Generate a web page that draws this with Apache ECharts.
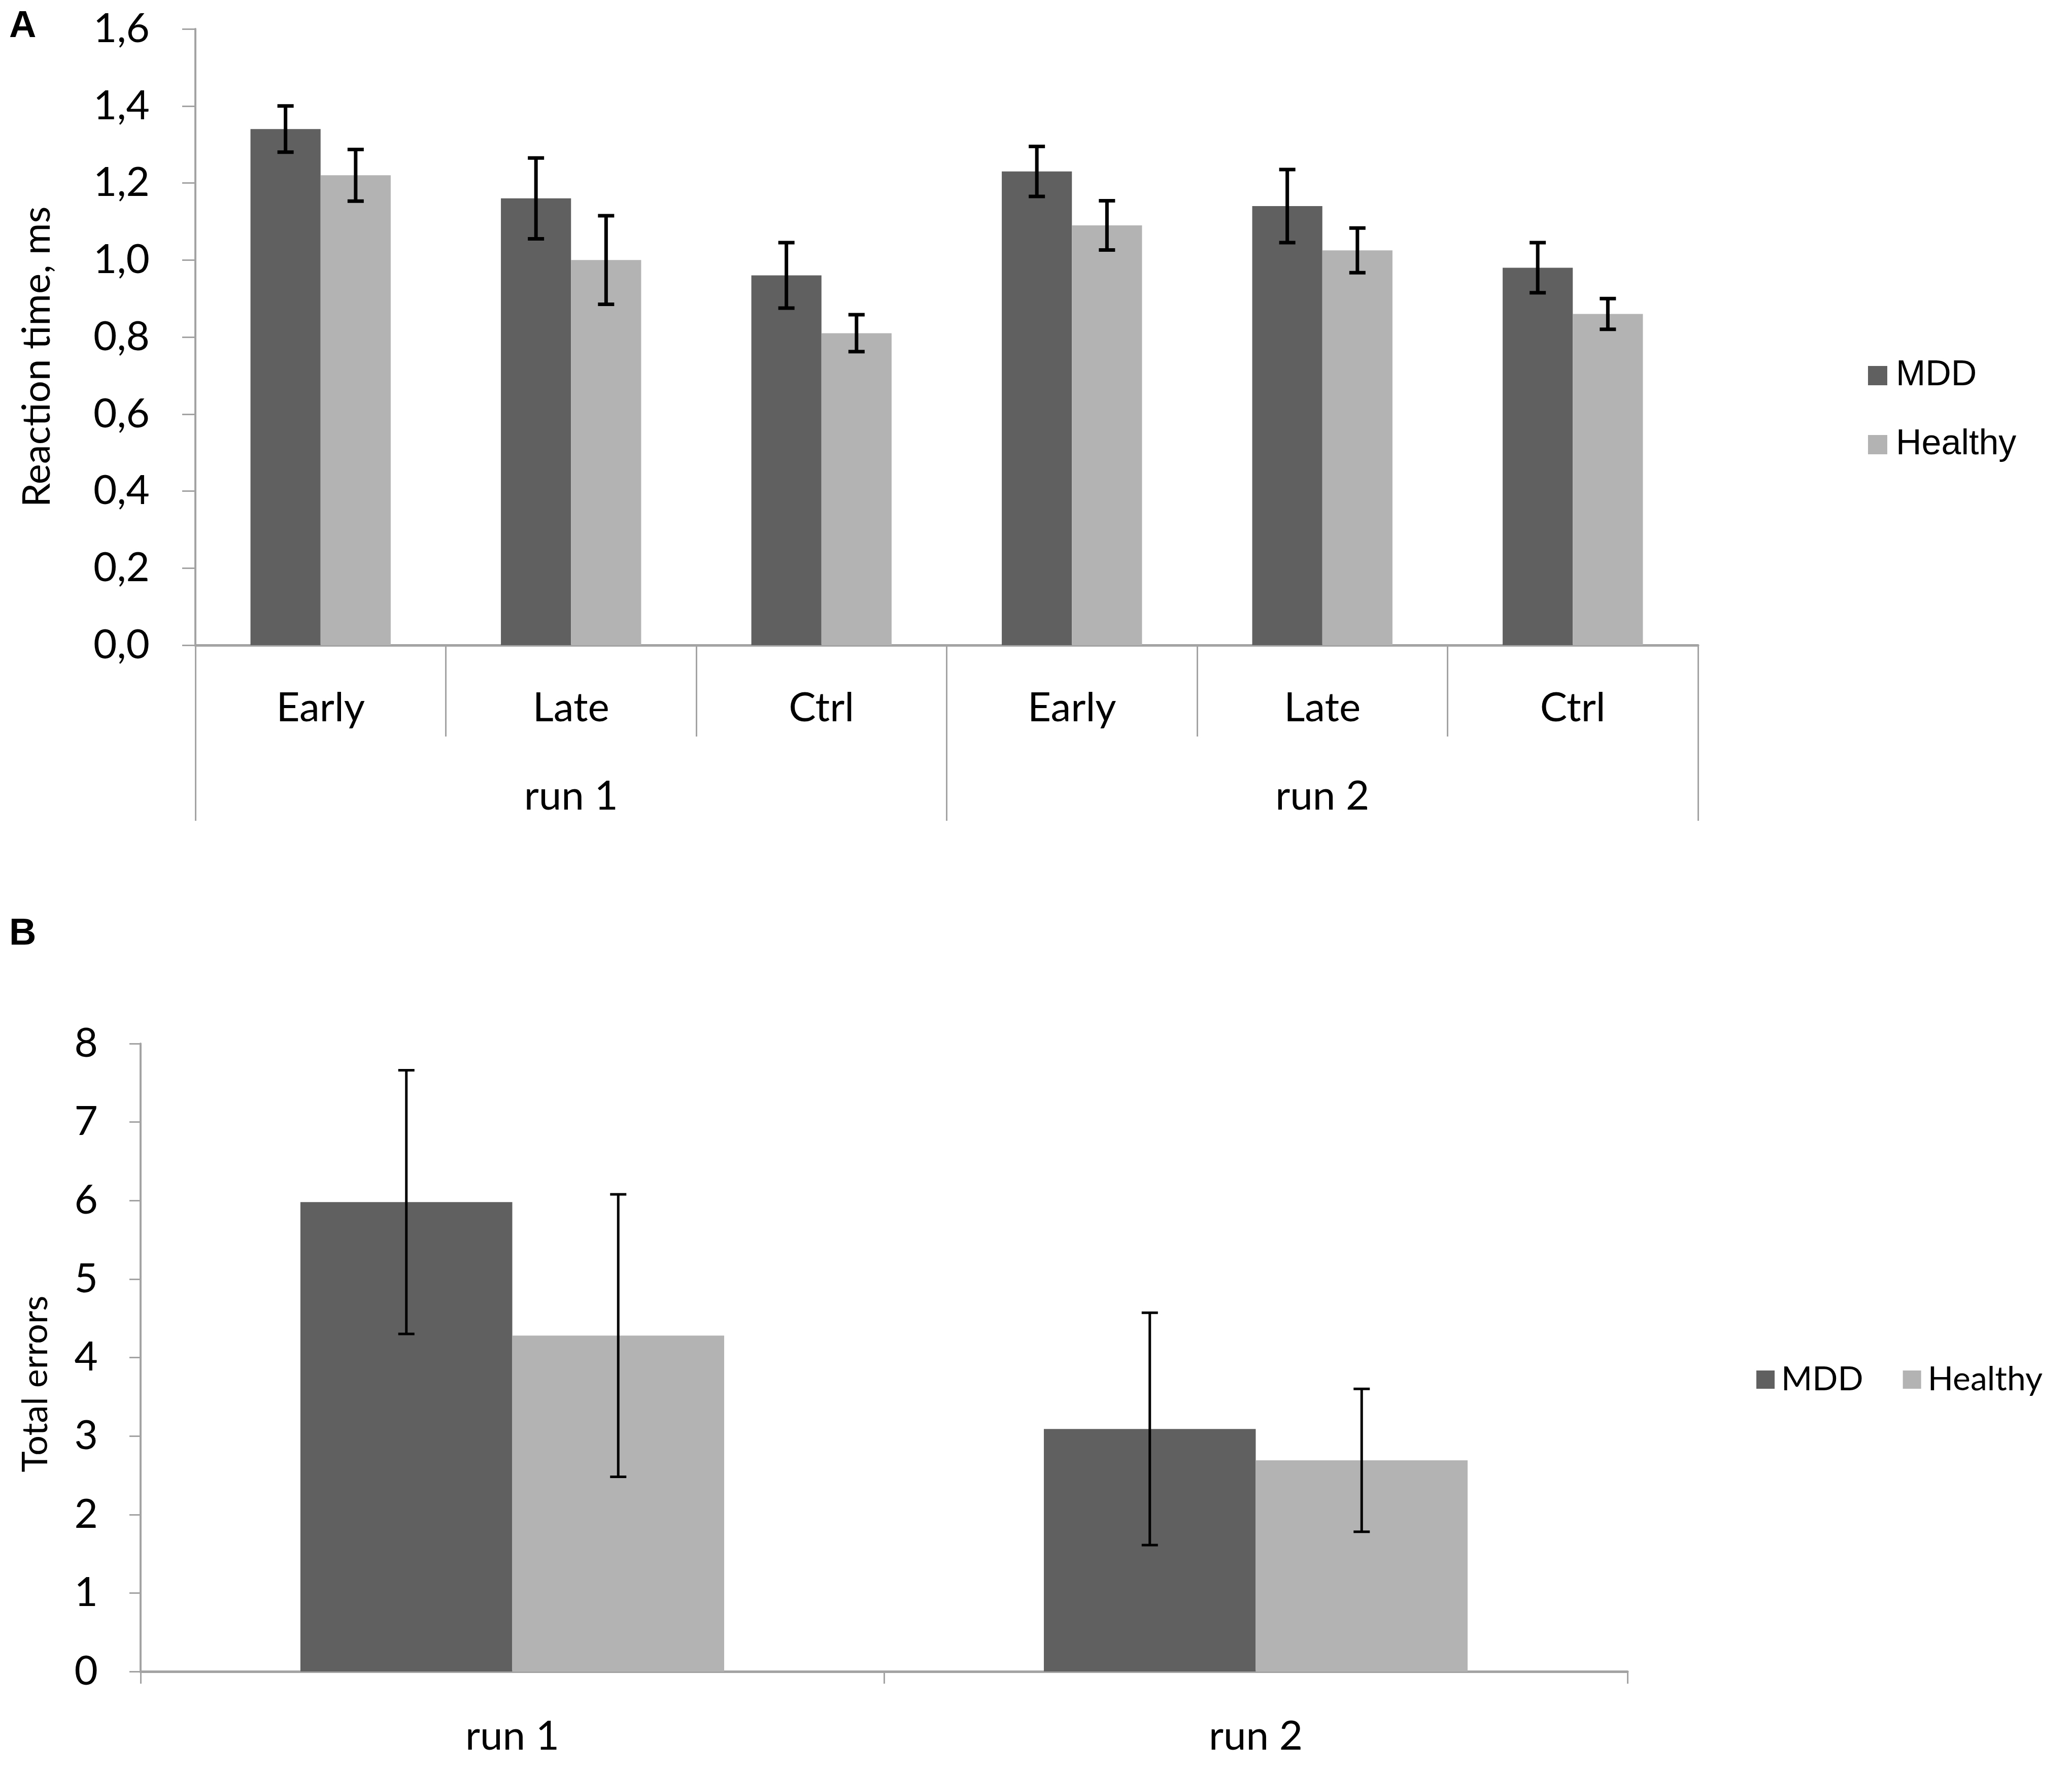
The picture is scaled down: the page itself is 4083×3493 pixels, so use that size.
<!DOCTYPE html>
<html>
<head>
<meta charset="utf-8">
<script src="https://cdn.jsdelivr.net/npm/echarts@6/dist/echarts.min.js"></script>
<style>
html, body { margin: 0; padding: 0; background: #fff; }
#main { width: 4083px; height: 3493px; }
</style>
</head>
<body>
<div id="main"></div>
<script>
// panel A: reaction time
var catsA = ['Early', 'Late', 'Ctrl', 'Early', 'Late', 'Ctrl'];
var runsA = ['run 1', 'run 2'];
var mddA = [1.34, 1.16, 0.96, 1.23, 1.14, 0.98];
var healthyA = [1.22, 1.00, 0.81, 1.09, 1.025, 0.86];
var mddErrA = [0.06, 0.105, 0.085, 0.065, 0.095, 0.065];
var healthyErrA = [0.067, 0.115, 0.048, 0.064, 0.058, 0.04];

// panel B: total errors
var catsB = ['run 1', 'run 2'];
var mddB = [5.98, 3.09];
var healthyB = [4.28, 2.69];
var mddErrB = [1.68, 1.48];
var healthyErrB = [1.80, 0.91];

var FONT = 'Lato';
var AXIS_GREY = '#a3a3a3';
var MDD_COL = '#606060';
var HEALTHY_COL = '#b3b3b3';

function errData(vals, errs) {
	return vals.map(function (v, i) { return [i, v - errs[i], v + errs[i]]; });
}

function errRender(side, gap, lw, cap) {
	return function (params, api) {
		var x = api.value(0);
		var band = api.size([1, 0])[0];
		var bw = band * (1 - gap) / 2;
		var off = side * bw / 2;
		var hi = api.coord([x, api.value(2)]);
		var lo = api.coord([x, api.value(1)]);
		var cx = hi[0] + off;
		var st = { stroke: '#000', lineWidth: lw };
		return {
			type: 'group',
			children: [
				{ type: 'line', shape: { x1: cx, y1: hi[1], x2: cx, y2: lo[1] }, style: st },
				{ type: 'line', shape: { x1: cx - cap, y1: hi[1], x2: cx + cap, y2: hi[1] }, style: st },
				{ type: 'line', shape: { x1: cx - cap, y1: lo[1], x2: cx + cap, y2: lo[1] }, style: st }
			]
		};
	};
}

var myChart = echarts.init(document.getElementById('main'));
option = {
	backgroundColor: '#fff',
	textStyle: { fontFamily: FONT, color: '#000' },
	graphic: [
		{ type: 'text', left: 18, top: 16, style: { text: 'A', font: 'bold 74px "Liberation Sans"', fill: '#000' } },
		{ type: 'text', left: 18, top: 1804, style: { text: 'B', font: 'bold 74px "Liberation Sans"', fill: '#000' } }
	],
	legend: [
		{
			orient: 'vertical',
			left: 3676,
			top: 700,
			itemWidth: 38,
			itemHeight: 38,
			itemGap: 66,
			icon: 'rect',
			data: ['MDD', 'Healthy'],
			textStyle: { fontFamily: 'Liberation Sans', fontSize: 70, color: '#000', padding: [0, 0, 0, 12] }
		},
		{
			orient: 'horizontal',
			left: 3456,
			top: 2680,
			itemWidth: 36,
			itemHeight: 36,
			itemGap: 78,
			icon: 'rect',
			data: ['MDD', 'Healthy'],
			textStyle: { fontFamily: FONT, fontSize: 66, color: '#000', padding: [0, 0, 0, 8] }
		}
	],
	grid: [
		{ left: 385, right: 737, top: 57, bottom: 2222 },
		{ left: 277, right: 876, top: 2056, bottom: 200 }
	],
	xAxis: [
		{
			type: 'category',
			gridIndex: 0,
			data: catsA,
			axisLine: { lineStyle: { color: AXIS_GREY, width: 5 } },
			axisTick: { show: true, interval: 0, length: 180, lineStyle: { color: AXIS_GREY, width: 3 } },
			axisLabel: { fontFamily: FONT, fontSize: 80, color: '#000', margin: 84 }
		},
		{
			type: 'category',
			gridIndex: 0,
			position: 'bottom',
			data: runsA,
			axisLine: { show: false },
			axisTick: { show: true, interval: 0, length: 346, lineStyle: { color: AXIS_GREY, width: 3 } },
			axisLabel: { fontFamily: FONT, fontSize: 80, color: '#000', margin: 258 }
		},
		{
			type: 'category',
			gridIndex: 1,
			data: catsB,
			axisLine: { lineStyle: { color: AXIS_GREY, width: 5 } },
			axisTick: { show: true, interval: 0, length: 24, lineStyle: { color: AXIS_GREY, width: 3 } },
			axisLabel: { fontFamily: FONT, fontSize: 80, color: '#000', margin: 88 }
		}
	],
	yAxis: [
		{
			type: 'value',
			gridIndex: 0,
			min: 0,
			max: 1.6,
			interval: 0.2,
			name: 'Reaction time, ms',
			nameLocation: 'middle',
			nameGap: 274,
			nameTextStyle: { fontFamily: FONT, fontSize: 76, color: '#000', padding: [0, 78, 0, 0] },
			axisLine: { show: true, lineStyle: { color: AXIS_GREY, width: 4 } },
			axisTick: { show: true, length: 26, lineStyle: { color: AXIS_GREY, width: 3 } },
			splitLine: { show: false },
			axisLabel: {
				fontFamily: FONT, fontSize: 80, color: '#000', margin: 90,
				formatter: function (v) { return v.toFixed(1).replace('.', ','); }
			}
		},
		{
			type: 'value',
			gridIndex: 1,
			min: 0,
			max: 8,
			interval: 1,
			name: 'Total errors',
			nameLocation: 'middle',
			nameGap: 172,
			nameTextStyle: { fontFamily: FONT, fontSize: 70, color: '#000', padding: [0, 104, 0, 0] },
			axisLine: { show: true, lineStyle: { color: AXIS_GREY, width: 4 } },
			axisTick: { show: true, length: 22, lineStyle: { color: AXIS_GREY, width: 3 } },
			splitLine: { show: false },
			axisLabel: { fontFamily: FONT, fontSize: 80, color: '#000', margin: 84 }
		}
	],
	series: [
		{
			name: 'MDD', type: 'bar', xAxisIndex: 0, yAxisIndex: 0,
			barGap: '0%', barCategoryGap: '44%',
			itemStyle: { color: MDD_COL },
			data: mddA
		},
		{
			name: 'Healthy', type: 'bar', xAxisIndex: 0, yAxisIndex: 0,
			barGap: '0%', barCategoryGap: '44%',
			itemStyle: { color: HEALTHY_COL },
			data: healthyA
		},
		{
			name: 'MDD', type: 'bar', xAxisIndex: 2, yAxisIndex: 1,
			barGap: '0%', barCategoryGap: '43%',
			itemStyle: { color: MDD_COL },
			data: mddB
		},
		{
			name: 'Healthy', type: 'bar', xAxisIndex: 2, yAxisIndex: 1,
			barGap: '0%', barCategoryGap: '43%',
			itemStyle: { color: HEALTHY_COL },
			data: healthyB
		},
		{
			type: 'custom', xAxisIndex: 0, yAxisIndex: 0, z: 5,
			renderItem: errRender(-1, 0.44, 7, 16),
			encode: { x: 0, y: [1, 2] },
			data: errData(mddA, mddErrA)
		},
		{
			type: 'custom', xAxisIndex: 0, yAxisIndex: 0, z: 5,
			renderItem: errRender(1, 0.44, 7, 16),
			encode: { x: 0, y: [1, 2] },
			data: errData(healthyA, healthyErrA)
		},
		{
			type: 'custom', xAxisIndex: 2, yAxisIndex: 1, z: 5,
			renderItem: errRender(-1, 0.43, 5, 16),
			encode: { x: 0, y: [1, 2] },
			data: errData(mddB, mddErrB)
		},
		{
			type: 'custom', xAxisIndex: 2, yAxisIndex: 1, z: 5,
			renderItem: errRender(1, 0.43, 5, 16),
			encode: { x: 0, y: [1, 2] },
			data: errData(healthyB, healthyErrB)
		}
	]
};
myChart.setOption(option);
</script>
</body>
</html>
